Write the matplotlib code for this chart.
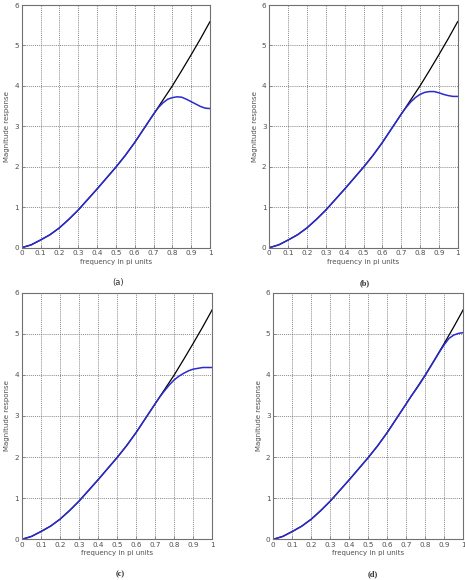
import numpy as np
import matplotlib
matplotlib.use('Agg')
import matplotlib.pyplot as plt

# common frequency grid (in pi units) and the ideal response (black)
freq = [0.0, 0.05, 0.1, 0.15, 0.2, 0.25, 0.3, 0.35, 0.4, 0.45, 0.5,
        0.55, 0.6, 0.65, 0.7, 0.75, 0.8, 0.85, 0.9, 0.95, 1.0]
ideal = [0.0, 0.07, 0.19, 0.32, 0.49, 0.70, 0.93, 1.19, 1.45, 1.72, 1.99,
         2.28, 2.60, 2.95, 3.30, 3.65, 4.00, 4.38, 4.77, 5.17, 5.59]

# designed responses (blue), shared part up to 0.7 then the tail of each panel
tail_freq = [0.725, 0.75, 0.775, 0.8, 0.825, 0.85, 0.875, 0.9, 0.925, 0.95, 0.975, 1.0]
tail_a = [3.46, 3.58, 3.67, 3.71, 3.73, 3.72, 3.67, 3.61, 3.55, 3.49, 3.45, 3.44]
tail_b = [3.46, 3.60, 3.71, 3.79, 3.84, 3.86, 3.86, 3.83, 3.79, 3.76, 3.74, 3.74]
tail_c = [3.47, 3.62, 3.76, 3.88, 3.97, 4.04, 4.10, 4.14, 4.16, 4.18, 4.18, 4.18]
tail_d = [3.48, 3.64, 3.81, 3.99, 4.18, 4.37, 4.56, 4.74, 4.89, 4.97, 5.01, 5.03]

panel_labels = ['(a)', '(b)', '(c)', '(d)']
xticks = [0, 0.1, 0.2, 0.3, 0.4, 0.5, 0.6, 0.7, 0.8, 0.9, 1]
xticklabels = ['0', '0.1', '0.2', '0.3', '0.4', '0.5', '0.6', '0.7', '0.8', '0.9', '1']
yticks = [0, 1, 2, 3, 4, 5, 6]

W, H = 465, 580
fig = plt.figure(figsize=(W / 100, H / 100), dpi=100)

# axes boxes in pixels: left, top, right, bottom
boxes = [(21.7, 5, 210, 247.7), (269.3, 5, 457.7, 247.7),
         (22, 292.7, 212.3, 539.3), (273.3, 292.7, 463.3, 539.3)]
ylab_x = [7.3, 255, 7.3, 259]
lab_pos = [(118, 282.7), (365, 282.7), (120, 574), (373, 574)]
tails = [tail_a, tail_b, tail_c, tail_d]

gray = '#707070'
base_x = [f for f in freq if f <= 0.7]
base_y = ideal[:len(base_x)]

for i in range(4):
    l, t, r, b = boxes[i]
    ax = fig.add_axes([l / W, 1 - b / H, (r - l) / W, (b - t) / H])
    ax.plot(freq, ideal, color='black', lw=0.9)
    ax.plot(base_x + tail_freq, base_y + tails[i], color='#2a2ad0', lw=1.1)
    ax.set_xlim(0, 1)
    ax.set_ylim(0, 6)
    ax.set_xticks(xticks)
    ax.set_xticklabels(xticklabels)
    ax.set_yticks(yticks)
    ax.grid(True, color='#606060', ls=(0, (1.5, 1.5)), lw=0.5)
    ax.tick_params(direction='in', length=2, width=0.5, colors=gray,
                   labelsize=5.2, pad=2, labelcolor='#505050')
    for s in ax.spines.values():
        s.set_color(gray)
        s.set_linewidth(0.8)
    ax.set_xlabel('frequency in pi units', fontsize=5, color='#505050', labelpad=1.5)
    fig.text(ylab_x[i] / W, 1 - (t + b) / 2 / H, 'Magnitude response', rotation=90,
             fontsize=5, color='#505050', ha='center', va='center')
    if i == 0:
        fig.text(lab_pos[i][0] / W, 1 - lab_pos[i][1] / H, panel_labels[i],
                 fontsize=6, ha='center', va='center', color='#303030')
    else:
        fig.text(lab_pos[i][0] / W, 1 - lab_pos[i][1] / H, panel_labels[i],
                 fontsize=6, ha='center', va='center', color='#303030',
                 family='Liberation Serif', weight='bold')

fig.savefig('out.png', dpi=100)
